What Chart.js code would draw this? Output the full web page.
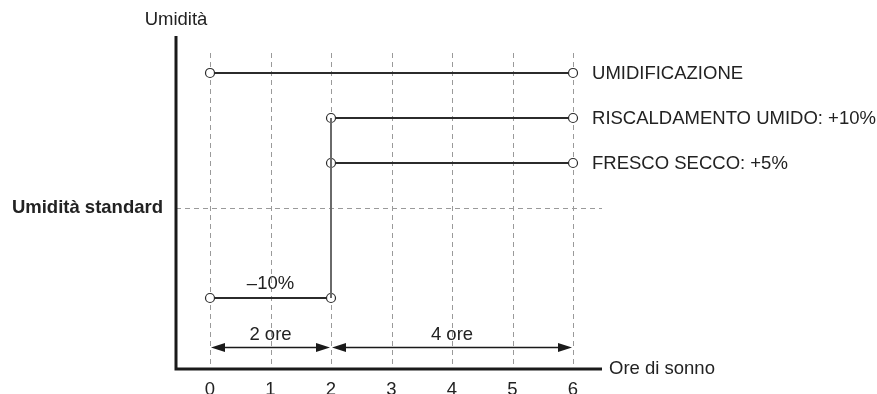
<!DOCTYPE html>
<html>
<head>
<meta charset="utf-8">
<script src="https://cdn.jsdelivr.net/npm/chart.js@4.4.1/dist/chart.umd.min.js"></script>
<style>
  html, body { margin: 0; background: #fff; }
  #wrap { width: 877px; height: 394px; }
</style>
</head>
<body>
<div id="wrap"><canvas id="sleepChart"></canvas></div>
<script>
// Ore di sonno (x) and umidità relative to standard, in % (y)
const hours = [0, 1, 2, 3, 4, 5, 6];

const umidHours = [0, 6];
const umidValues = [15, 15];
const riscHours = [2, 6];
const riscValues = [10, 10];
const frescoHours = [2, 6];
const frescoValues = [5, 5];
const startHours = [0, 2];
const startValues = [-10, -10];
const jumpHours = [2, 2];
const jumpValues = [-10, 10];

const seriesLabels = ['UMIDIFICAZIONE', 'RISCALDAMENTO UMIDO: +10%', 'FRESCO SECCO: +5%'];
const dropLabel = '–10%';
const standardLabel = 'Umidità standard';

const spanStarts = [0, 2];
const spanEnds = [2, 6];
const spanLabels = ['2 ore', '4 ore'];
const spanLevel = -15.5;

const FONT = '"Liberation Sans", Arial, sans-serif';
const FSIZE = 18.5;
const INK = '#222';

function pts(xs, ys) {
    return xs.map((x, i) => ({ x: x, y: ys[i] }));
}

function lineSet(label, xs, ys, withPoints) {
    return {
        label: label,
        data: pts(xs, ys),
        borderColor: '#2b2b2b',
        borderWidth: 2,
        pointRadius: withPoints ? 4.5 : 0,
        pointBackgroundColor: '#fff',
        pointBorderColor: '#2b2b2b',
        pointBorderWidth: 1.2,
        tension: 0
    };
}

const jumpSet = lineSet('salto', jumpHours, jumpValues, false);
jumpSet.borderColor = '#6a6a6a';

// extra drawing: grid, axes, arrows, texts
const decor = {
    id: 'decor',
    beforeDatasetsDraw(chart) {
        const { ctx, chartArea: a, scales: { x, y } } = chart;
        ctx.save();
        ctx.strokeStyle = '#9a9a9a';
        ctx.lineWidth = 1;
        ctx.setLineDash([5, 4]);
        hours.forEach(h => {
            const px = Math.round(x.getPixelForValue(h)) + 0.5;
            ctx.beginPath();
            ctx.moveTo(px, a.top);
            ctx.lineTo(px, a.bottom);
            ctx.stroke();
        });
        const py = Math.round(y.getPixelForValue(0)) + 0.5;
        ctx.beginPath();
        ctx.moveTo(a.left, py);
        ctx.lineTo(a.right, py);
        ctx.stroke();
        ctx.restore();
    },
    afterDatasetsDraw(chart) {
        const { ctx, chartArea: a, scales: { x, y } } = chart;
        ctx.save();
        // axes
        ctx.strokeStyle = '#1a1a1a';
        ctx.lineWidth = 3;
        ctx.beginPath();
        ctx.moveTo(a.left, a.top - 17);
        ctx.lineTo(a.left, a.bottom);
        ctx.lineTo(a.right, a.bottom);
        ctx.stroke();

        ctx.fillStyle = INK;
        ctx.font = FSIZE + 'px ' + FONT;
        ctx.textBaseline = 'middle';
        ctx.textAlign = 'center';
        ctx.fillText('Umidità', a.left, 20);
        ctx.textAlign = 'left';
        ctx.fillText('Ore di sonno', a.right + 7, a.bottom);

        // right-hand labels
        [umidHours, riscHours, frescoHours].forEach((xs, i) => {
            const ys = [umidValues, riscValues, frescoValues][i];
            const lx = x.getPixelForValue(xs[xs.length - 1]);
            const ly = y.getPixelForValue(ys[ys.length - 1]);
            ctx.fillText(seriesLabels[i], lx + 19, ly + 1);
        });

        ctx.textAlign = 'center';
        ctx.fillText(dropLabel, x.getPixelForValue((startHours[0] + startHours[1]) / 2),
            y.getPixelForValue(startValues[0]) - 14);

        // duration arrows
        const ay = Math.round(y.getPixelForValue(spanLevel)) + 0.5;
        spanStarts.forEach((s, i) => {
            const x0 = x.getPixelForValue(s);
            const x1 = x.getPixelForValue(spanEnds[i]);
            ctx.strokeStyle = '#1a1a1a';
            ctx.lineWidth = 1.5;
            ctx.beginPath();
            ctx.moveTo(x0 + 10, ay);
            ctx.lineTo(x1 - 10, ay);
            ctx.stroke();
            ctx.fillStyle = '#1a1a1a';
            ctx.beginPath();
            ctx.moveTo(x0 + 1, ay);
            ctx.lineTo(x0 + 15, ay - 4.5);
            ctx.lineTo(x0 + 15, ay + 4.5);
            ctx.closePath();
            ctx.fill();
            ctx.beginPath();
            ctx.moveTo(x1 - 1, ay);
            ctx.lineTo(x1 - 15, ay - 4.5);
            ctx.lineTo(x1 - 15, ay + 4.5);
            ctx.closePath();
            ctx.fill();
            ctx.fillStyle = INK;
            ctx.fillText(spanLabels[i], (x0 + x1) / 2, ay - 13);
        });
        ctx.restore();
    }
};

const ctx = document.getElementById('sleepChart').getContext('2d');
new Chart(ctx, {
    type: 'line',
    data: {
        datasets: [
            jumpSet,
            lineSet('-10%', startHours, startValues, true),
            lineSet(seriesLabels[0], umidHours, umidValues, true),
            lineSet(seriesLabels[1], riscHours, riscValues, true),
            lineSet(seriesLabels[2], frescoHours, frescoValues, true)
        ]
    },
    options: {
        responsive: true,
        maintainAspectRatio: false,
        animation: false,
        layout: {
            padding: { top: 53, right: 275, left: 0, bottom: 0 }
        },
        plugins: {
            legend: { display: false },
            tooltip: { enabled: false }
        },
        scales: {
            x: {
                type: 'linear',
                min: -0.562,
                max: 6.479,
                afterBuildTicks: s => { s.ticks = hours.map(h => ({ value: h })); },
                afterFit: s => { s.height = 25; },
                grid: { display: false, drawTicks: false },
                border: { display: false },
                ticks: {
                    padding: 10,
                    color: INK,
                    font: { family: FONT, size: FSIZE }
                }
            },
            y: {
                type: 'linear',
                min: -17.89,
                max: 17.22,
                afterBuildTicks: s => { s.ticks = [{ value: 0 }]; },
                afterFit: s => { s.width = 176; },
                grid: { display: false, drawTicks: false },
                border: { display: false },
                ticks: {
                    padding: 13,
                    color: INK,
                    font: { family: FONT, size: FSIZE, weight: 'bold' },
                    callback: () => standardLabel
                }
            }
        }
    },
    plugins: [decor]
});
</script>
</body>
</html>
